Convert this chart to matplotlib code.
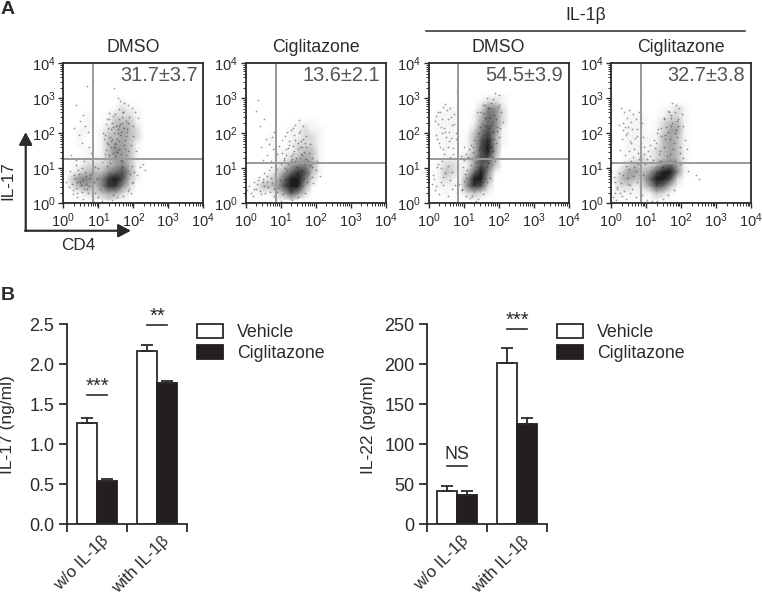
#!/usr/bin/env python3

import numpy as np
from matplotlib import pyplot as plt
from matplotlib.ticker import LogLocator, NullFormatter

plt.rcParams['font.family'] = ['Liberation Sans', 'DejaVu Sans']
plt.rcParams['mathtext.fontset'] = 'custom'
plt.rcParams['mathtext.rm'] = 'Liberation Sans'
plt.rcParams['mathtext.default'] = 'regular'

W, H = 762, 595
DARK = '#2b2b2b'

# Flow plots: darkness (0-9) read per 0.2 decade cell, rows go from top (3.0-3.2) to bottom (0-0.2)
dens_1 = [
    [0, 0, 0, 0, 0, 0, 0, 0, 0, 0, 0, 0],
    [0, 0, 0, 0, 0, 0, 0, 0, 1, 0, 0, 0],
    [0, 0, 0, 0, 0, 0, 0, 1, 2, 1, 1, 0],
    [0, 0, 0, 1, 0, 0, 1, 2, 2, 2, 1, 0],
    [0, 0, 0, 1, 0, 0, 1, 3, 3, 3, 1, 0],
    [0, 0, 1, 1, 0, 1, 2, 3, 4, 3, 2, 0],
    [0, 0, 1, 0, 0, 1, 3, 3, 4, 3, 2, 0],
    [0, 0, 1, 0, 0, 1, 3, 4, 4, 3, 1, 0],
    [0, 0, 0, 1, 0, 1, 3, 5, 4, 3, 1, 0],
    [0, 0, 1, 1, 1, 1, 3, 4, 4, 3, 1, 0],
    [0, 1, 1, 2, 2, 2, 3, 4, 5, 3, 1, 1],
    [0, 1, 2, 3, 3, 3, 5, 6, 7, 4, 1, 0],
    [1, 3, 5, 5, 4, 5, 8, 9, 7, 3, 1, 0],
    [0, 2, 4, 4, 3, 5, 8, 8, 5, 2, 0, 0],
    [0, 0, 1, 2, 2, 3, 4, 4, 2, 1, 0, 0],
    [0, 0, 0, 0, 1, 1, 2, 1, 1, 0, 0, 0],
]
dens_2 = [
    [0, 0, 0, 0, 0, 0, 0, 0, 0, 0, 0, 0],
    [0, 0, 0, 0, 0, 0, 0, 0, 0, 0, 0, 0],
    [0, 0, 0, 0, 0, 0, 0, 0, 0, 0, 0, 0],
    [0, 0, 0, 0, 0, 0, 0, 0, 0, 0, 0, 0],
    [0, 0, 0, 0, 0, 0, 0, 1, 1, 1, 0, 0],
    [0, 0, 0, 0, 0, 0, 1, 1, 2, 1, 1, 0],
    [0, 0, 0, 1, 0, 0, 1, 1, 2, 2, 1, 0],
    [0, 0, 0, 1, 0, 0, 1, 2, 2, 2, 1, 0],
    [0, 0, 0, 0, 1, 1, 1, 2, 3, 3, 1, 0],
    [0, 0, 0, 0, 1, 1, 2, 3, 4, 3, 1, 0],
    [0, 0, 0, 0, 1, 2, 4, 5, 5, 4, 1, 0],
    [0, 0, 0, 1, 2, 4, 6, 8, 7, 3, 1, 0],
    [0, 0, 1, 2, 3, 6, 9, 9, 6, 2, 0, 0],
    [0, 1, 3, 3, 4, 7, 9, 9, 4, 1, 0, 0],
    [0, 1, 1, 1, 2, 4, 7, 5, 2, 0, 0, 0],
    [0, 0, 0, 0, 1, 1, 2, 1, 0, 0, 0, 0],
]
dens_3 = [
    [0, 0, 0, 0, 0, 0, 0, 0, 0, 1, 1, 0],
    [0, 0, 0, 0, 0, 0, 0, 1, 2, 2, 1, 0],
    [0, 0, 1, 1, 0, 0, 0, 2, 5, 5, 2, 0],
    [0, 1, 1, 1, 0, 0, 1, 3, 6, 5, 2, 0],
    [0, 1, 1, 1, 0, 0, 1, 4, 6, 5, 2, 0],
    [0, 1, 1, 1, 0, 0, 2, 5, 7, 5, 1, 0],
    [0, 1, 1, 1, 0, 1, 3, 6, 8, 4, 1, 0],
    [0, 0, 1, 1, 0, 1, 3, 7, 9, 4, 1, 0],
    [0, 0, 1, 0, 0, 1, 3, 7, 9, 4, 0, 0],
    [0, 0, 1, 1, 1, 2, 4, 7, 7, 3, 0, 0],
    [0, 1, 2, 2, 1, 1, 4, 7, 6, 3, 0, 0],
    [0, 1, 3, 2, 1, 2, 6, 9, 5, 1, 0, 0],
    [0, 1, 2, 1, 1, 4, 9, 9, 4, 0, 0, 0],
    [0, 1, 1, 1, 1, 5, 8, 7, 2, 0, 0, 0],
    [0, 0, 1, 0, 0, 2, 3, 2, 1, 0, 0, 0],
    [0, 0, 0, 0, 0, 0, 1, 0, 0, 0, 0, 0],
]
dens_4 = [
    [0, 0, 0, 0, 0, 0, 0, 0, 0, 0, 0, 0],
    [0, 0, 0, 0, 0, 0, 0, 0, 0, 0, 0, 0],
    [0, 0, 0, 0, 0, 0, 0, 1, 1, 2, 1, 0],
    [0, 0, 1, 1, 1, 0, 0, 1, 2, 2, 1, 0],
    [0, 0, 1, 1, 1, 0, 1, 2, 3, 3, 1, 0],
    [0, 0, 1, 1, 1, 0, 1, 2, 4, 4, 1, 0],
    [0, 0, 1, 1, 1, 1, 1, 3, 4, 3, 1, 0],
    [0, 0, 1, 1, 1, 1, 1, 3, 4, 3, 1, 0],
    [0, 0, 1, 1, 1, 1, 2, 3, 4, 3, 1, 0],
    [0, 0, 1, 1, 2, 1, 2, 3, 4, 3, 1, 0],
    [0, 1, 2, 3, 2, 2, 3, 5, 6, 4, 1, 0],
    [0, 2, 4, 4, 3, 4, 7, 9, 9, 5, 1, 0],
    [1, 3, 4, 3, 3, 6, 9, 9, 7, 2, 0, 0],
    [1, 2, 2, 1, 2, 4, 7, 6, 3, 1, 0, 0],
    [1, 1, 1, 1, 1, 1, 3, 2, 1, 0, 0, 0],
    [1, 0, 0, 0, 0, 0, 1, 0, 0, 0, 0, 0],
]

# Single events, log10 of the channel value
x_1 = [0.68, 1.44, 0.37, 0.56, 0.49, 0.30, 0.62, 0.44, 0.52, 0.72, 0.80, 0.23, 0.35, 0.70, 1.55, 1.62,
       1.72, 1.85, 1.95, 2.05, 2.12, 1.30, 1.42, 1.58, 1.70, 1.78, 1.88, 2.00, 1.22, 1.35, 1.50, 1.66,
       1.82, 1.98, 1.15, 1.28, 1.44, 1.60, 1.75, 1.92, 2.08, 2.28, 2.32, 2.18, 2.10, 1.95, 0.08, 0.15,
       0.28, 0.40, 0.55, 0.70, 0.85, 0.98, 1.10, 1.25, 1.40, 1.55, 1.70, 1.85, 0.20, 0.35, 0.60, 0.90,
       1.05, 1.20, 1.48, 1.65, 1.38, 1.52, 1.68, 1.26, 1.12, 1.58, 1.80,
       1.18, 1.22, 1.30, 1.36, 1.42, 1.48, 1.54, 1.60, 1.66, 1.72, 1.78, 1.84, 1.20, 1.27, 1.33, 1.39,
       1.46, 1.52, 1.57, 1.63, 1.69, 1.75, 1.81, 1.25, 1.31, 1.37, 1.43, 1.49, 1.56, 1.62, 1.68, 1.74,
       1.80, 1.86, 0.25, 0.30, 0.36, 0.42, 0.48, 0.54, 0.60, 0.66, 0.72, 0.78, 0.84, 0.33, 0.39, 0.45,
       0.51, 0.57, 0.63, 0.69, 0.75, 0.81, 0.28, 0.40, 0.52, 0.64, 0.76, 0.88, 1.90, 1.95, 1.88, 2.00,
       1.92, 2.02, 0.90, 0.95, 1.00, 1.05, 1.10, 1.34, 1.47, 1.59, 1.71, 1.24, 1.41, 1.53, 1.67]
y_1 = [3.34, 3.30, 2.80, 2.51, 2.35, 2.15, 2.20, 1.95, 1.72, 1.60, 1.45, 1.38, 1.25, 2.05, 3.02, 2.92,
       2.86, 2.80, 2.72, 2.62, 2.45, 2.58, 2.50, 2.40, 2.62, 2.35, 2.48, 2.22, 2.28, 2.12, 2.22, 2.05,
       2.12, 1.92, 1.85, 1.70, 1.62, 1.78, 1.55, 1.68, 1.50, 1.12, 0.95, 1.05, 0.82, 0.58, 0.62, 0.48,
       0.28, 0.18, 0.12, 0.30, 0.06, 0.18, 0.08, 0.04, 0.10, 0.05, 0.22, 0.35, 0.92, 1.10, 1.22, 1.05,
       1.28, 1.40, 1.35, 1.25, 1.85, 1.48, 1.22, 2.42, 2.02, 2.70, 1.38,
       1.30, 1.52, 1.38, 1.60, 1.45, 1.72, 1.30, 1.55, 1.42, 1.68, 1.30, 1.50, 1.95, 2.15, 1.90, 2.30,
       2.00, 1.85, 2.12, 1.95, 2.30, 1.80, 2.05, 1.72, 2.40, 1.78, 2.18, 2.55, 2.00, 2.28, 2.48, 2.16,
       1.92, 2.30, 0.55, 0.82, 0.45, 0.95, 0.62, 1.02, 0.40, 0.78, 0.50, 0.88, 0.58, 0.72, 0.30, 0.85,
       0.52, 0.68, 0.90, 0.42, 0.72, 0.98, 0.38, 0.60, 0.32, 0.55, 0.82, 0.62, 0.85, 1.08, 0.40, 0.62,
       0.30, 0.90, 0.30, 0.70, 1.02, 0.42, 1.18, 1.15, 1.70, 2.20, 2.60, 1.08, 0.25, 0.18, 1.05]

x_2 = [0.34, 0.28, 0.40, 0.52, 0.58, 0.44, 0.66, 0.75, 0.62, 0.50, 0.78, 0.82, 0.72, 0.88, 0.95, 1.05,
       1.18, 1.30, 1.40, 1.52, 1.65, 1.12, 1.25, 1.38, 1.55, 1.72, 1.85, 1.05, 1.20, 1.35, 1.50, 1.62,
       1.80, 1.90, 2.05, 2.00, 1.10, 1.28, 1.42, 1.58, 1.72, 1.88, 2.12, 0.05, 0.10, 0.15, 0.25, 0.38,
       0.52, 0.66, 0.80, 1.00, 1.15, 1.32, 1.50, 1.68, 0.20, 0.30, 0.48, 0.62, 0.72, 0.90, 1.02, 1.18,
       1.44, 1.60, 1.75, 1.92,
       1.08, 1.16, 1.24, 1.32, 1.40, 1.48, 1.56, 1.64, 1.72, 1.22, 1.30, 1.38, 1.46, 1.54, 1.62, 1.70,
       1.78, 1.14, 1.36, 1.52, 1.68, 1.44, 1.58, 1.34, 0.24, 0.32, 0.40, 0.48, 0.56, 0.64, 0.72, 0.80,
       0.36, 0.44, 0.52, 0.60, 0.68, 0.76, 0.84, 0.92, 0.98, 0.88, 1.06, 1.12, 1.78, 1.84, 1.90, 1.66]
y_2 = [2.95, 2.65, 2.20, 2.40, 1.85, 1.62, 1.70, 1.90, 1.38, 1.25, 1.55, 2.05, 1.20, 1.40, 1.65, 1.80,
       2.05, 2.10, 2.25, 2.38, 2.22, 1.92, 1.78, 1.95, 2.08, 1.92, 1.70, 1.45, 1.58, 1.42, 1.72, 1.60,
       1.45, 1.30, 1.22, 0.95, 1.25, 1.35, 1.20, 1.40, 1.28, 1.05, 0.78, 0.38, 0.50, 0.30, 0.62, 0.75,
       0.88, 0.95, 0.22, 0.08, 0.05, 0.10, 0.18, 0.30, 0.20, 0.42, 0.70, 0.62, 1.05, 0.98, 1.12, 0.95,
       1.05, 0.96, 0.62, 0.58,
       1.30, 1.55, 1.68, 1.28, 1.82, 1.55, 1.30, 1.85, 1.62, 1.12, 1.22, 1.50, 1.18, 1.62, 1.38, 1.72,
       1.20, 1.38, 1.64, 2.00, 1.12, 1.30, 1.78, 2.15, 0.42, 0.55, 0.35, 0.62, 0.30, 0.48, 0.72, 0.40,
       0.68, 0.28, 0.50, 0.78, 0.32, 0.58, 0.85, 0.45, 0.68, 0.32, 0.28, 1.02, 0.88, 1.10, 0.75, 1.48]

x_3 = [0.82, 0.62, 0.48, 0.40, 0.28, 0.18, 0.55, 0.72, 0.35, 0.22, 0.48, 0.66, 0.78, 0.30, 0.42, 0.58,
       0.70, 0.60, 0.38, 0.25, 0.12, 0.10, 0.18, 0.30, 0.42, 0.55, 0.68, 0.80, 1.90, 2.00, 1.85, 1.78,
       1.66, 1.98, 2.08, 2.12, 1.55, 1.42, 1.30, 1.22, 1.15, 1.08, 1.00, 2.05, 2.00, 1.92, 1.85, 1.80,
       1.70, 1.60, 1.52, 1.18, 1.08, 0.95, 1.02, 1.10, 1.25, 1.40, 1.55, 1.68, 1.00, 0.92, 1.05, 1.28,
       1.62, 1.76, 1.90, 1.46, 1.72, 1.34,
       0.20, 0.26, 0.33, 0.39, 0.45, 0.52, 0.58, 0.64, 0.71, 0.77, 0.24, 0.31, 0.37, 0.44, 0.50, 0.56,
       0.63, 0.69, 0.28, 0.36, 0.42, 0.54, 0.66, 0.16, 0.22, 0.34, 0.46, 0.60, 0.74, 1.12, 1.20, 1.28,
       1.36, 1.44, 1.52, 1.60, 1.68, 1.76, 1.84, 1.92, 1.38, 1.46, 1.54, 1.62, 1.70, 1.78, 1.86, 1.48,
       1.58, 1.66, 1.74, 1.82, 1.94, 2.02, 1.56, 1.64, 1.72, 1.80, 1.88, 1.96, 0.86, 0.94, 0.98, 1.06]
y_3 = [3.20, 2.72, 2.85, 2.75, 2.60, 2.35, 2.42, 2.55, 2.18, 1.95, 2.05, 2.25, 2.02, 1.72, 1.55, 1.78,
       1.58, 1.32, 1.20, 1.05, 0.82, 0.55, 0.38, 0.28, 0.52, 0.20, 0.40, 0.30, 3.15, 3.10, 2.98, 2.88,
       3.00, 2.75, 2.60, 2.32, 2.25, 2.00, 1.82, 1.68, 1.55, 1.42, 1.25, 2.15, 1.90, 1.72, 1.50, 1.32,
       1.15, 0.98, 0.72, 0.15, 0.22, 0.38, 0.65, 0.95, 0.20, 0.12, 0.28, 0.62, 1.62, 1.35, 0.85, 1.48,
       2.80, 2.45, 1.20, 2.62, 2.15, 0.06,
       2.50, 2.28, 2.62, 2.40, 2.15, 2.68, 2.05, 2.48, 2.28, 1.85, 1.85, 1.62, 2.00, 1.42, 1.90, 1.62,
       1.88, 1.42, 1.12, 1.00, 0.75, 1.08, 0.90, 0.70, 0.50, 0.62, 0.88, 0.68, 0.52, 1.32, 1.10, 1.62,
       1.18, 1.52, 1.82, 1.35, 1.05, 0.72, 2.05, 2.40, 2.62, 2.18, 2.82, 2.45, 2.72, 2.25, 1.85, 1.62,
       1.95, 1.45, 1.85, 1.60, 2.08, 2.82, 2.58, 2.22, 2.72, 2.32, 2.52, 2.18, 0.55, 0.42, 1.05, 0.72]

x_4 = [0.85, 0.28, 0.38, 0.45, 0.52, 0.62, 0.70, 0.80, 0.22, 0.35, 0.48, 0.58, 0.75, 0.88, 0.30, 0.42,
       0.56, 0.68, 0.82, 0.92, 0.25, 0.40, 0.52, 0.64, 0.78, 0.95, 1.02, 1.75, 1.85, 1.95, 2.02, 1.62,
       1.70, 1.88, 2.05, 1.50, 1.42, 1.30, 1.22, 1.12, 1.05, 2.10, 2.18, 2.05, 1.98, 2.20, 2.42, 2.50,
       0.02, 0.05, 0.10, 0.14, 0.18, 0.30, 0.42, 0.55, 0.72, 0.88, 1.02, 1.18, 1.32, 1.48, 1.62, 1.80,
       1.12, 1.25, 1.38, 1.55, 1.68, 1.82, 0.12, 0.08, 0.24,
       0.33, 0.41, 0.47, 0.54, 0.60, 0.67, 0.73, 0.79, 0.86, 0.93, 0.36, 0.44, 0.50, 0.58, 0.65, 0.71,
       0.77, 0.84, 0.91, 0.98, 0.28, 0.34, 0.46, 0.55, 0.63, 0.74, 0.87, 0.18, 0.26, 0.38, 0.49, 0.61,
       1.20, 1.28, 1.36, 1.44, 1.52, 1.60, 1.68, 1.76, 1.84, 1.92, 1.34, 1.42, 1.50, 1.58, 1.66, 1.74,
       1.82, 1.90, 1.46, 1.56, 1.64, 1.72, 1.80, 1.88, 1.96, 1.40, 1.54, 1.70, 1.86, 1.98]
y_4 = [3.22, 2.72, 2.60, 2.45, 2.68, 2.55, 2.40, 2.62, 2.25, 2.10, 2.18, 2.32, 2.12, 2.30, 1.85, 1.95,
       1.72, 1.88, 1.65, 1.90, 1.52, 1.38, 1.50, 1.32, 1.45, 1.62, 1.28, 2.88, 2.80, 2.72, 2.55, 2.65,
       2.45, 2.35, 2.20, 2.40, 2.15, 2.00, 1.82, 1.68, 1.50, 1.80, 1.55, 1.30, 1.12, 0.92, 0.82, 0.70,
       0.05, 0.18, 0.30, 0.10, 0.42, 0.22, 0.12, 0.30, 0.18, 0.25, 0.10, 0.08, 0.06, 0.12, 0.25, 0.38,
       1.35, 1.58, 1.22, 1.85, 1.40, 1.20, 0.62, 0.75, 0.88,
       2.30, 2.18, 2.02, 1.78, 2.12, 1.55, 1.92, 1.28, 1.72, 1.42, 1.18, 1.08, 0.98, 1.22, 1.05, 0.92,
       1.12, 0.98, 0.82, 1.12, 0.58, 0.82, 0.72, 0.52, 0.78, 0.62, 0.48, 0.48, 0.30, 0.36, 0.55, 0.42,
       1.25, 1.72, 1.42, 1.22, 1.62, 1.35, 1.85, 1.55, 2.00, 2.22, 2.12, 1.92, 2.45, 2.18, 2.60, 2.30,
       2.62, 2.42, 1.05, 1.18, 2.05, 2.52, 1.72, 1.90, 1.45, 1.50, 1.95, 2.20, 2.10, 1.62]

flow_titles = ['DMSO', 'Ciglitazone', 'DMSO', 'Ciglitazone']
flow_values = ['31.7±3.7', '13.6±2.1', '54.5±3.9', '32.7±3.8']
flow_gate_x = [0.85, 0.857, 0.83, 0.867]
flow_gate_y = [1.27, 1.16, 1.27, 1.16]
flow_dens = [dens_1, dens_2, dens_3, dens_4]
flow_x = [x_1, x_2, x_3, x_4]
flow_y = [y_1, y_2, y_3, y_4]
flow_left = [63.3, 245.7, 428.7, 611]

# Bar charts
bar_groups = ['w/o IL-1β', 'with IL-1β']
series_names = ['Vehicle', 'Ciglitazone']
il17_vehicle = [1.26, 2.17]
il17_vehicle_err = [0.07, 0.07]
il17_cigli = [0.54, 1.77]
il17_cigli_err = [0.02, 0.02]
il22_vehicle = [42, 201]
il22_vehicle_err = [6, 19]
il22_cigli = [36, 125]
il22_cigli_err = [5, 8]


def axes_px(left, top, width, height):
    return fig.add_axes([left / W, 1 - (top + height) / H, width / W, height / H])


def text_px(x, y, s, **kw):
    kw.setdefault('ha', 'center')
    kw.setdefault('va', 'center')
    kw.setdefault('color', DARK)
    fig.text(x / W, 1 - y / H, s, **kw)


def arrow_px(x1, y1, x2, y2):
    fig.add_artist(plt.annotate('', xy=(x2 / W, 1 - y2 / H), xytext=(x1 / W, 1 - y1 / H),
                                xycoords='figure fraction', textcoords='figure fraction',
                                arrowprops=dict(arrowstyle='-|>,head_length=0.75,head_width=0.4',
                                                color=DARK, lw=1.3, shrinkA=0, shrinkB=0)))


def flow_plot(left, i):
    ax = axes_px(left, 63.3, 140, 140)
    ax.set_xscale('log')
    ax.set_yscale('log')
    cx = 10 ** (np.arange(12) * 0.2 + 0.1)
    cy = 10 ** (np.arange(16) * 0.2 + 0.1)
    grid = np.array(flow_dens[i], dtype=float)[::-1]
    ax.pcolormesh(cx, cy, grid, shading='gouraud', cmap='gray_r', vmin=0.6, vmax=10, rasterized=True)
    ax.scatter(10 ** np.array(flow_x[i]), 10 ** np.array(flow_y[i]), s=1.6, c='#222222', alpha=0.45, linewidths=0)
    ax.axvline(10 ** flow_gate_x[i], color='#9a9a9a', lw=1.4)
    ax.axhline(10 ** flow_gate_y[i], color='#9a9a9a', lw=1.4)
    ax.set_xlim(1, 1e4)
    ax.set_ylim(1, 1e4)
    for s in ax.spines.values():
        s.set_linewidth(1.3)
        s.set_color(DARK)
    for axis in (ax.xaxis, ax.yaxis):
        axis.set_major_locator(LogLocator(base=10, numticks=6))
        axis.set_minor_locator(LogLocator(base=10, subs=np.arange(2, 10), numticks=6))
        axis.set_minor_formatter(NullFormatter())
    ax.tick_params(which='major', length=3.5, width=1, color=DARK, labelsize=10.5, labelcolor=DARK, pad=2)
    ax.tick_params(which='minor', length=2, width=0.7, color=DARK)
    ax.text(0.96, 0.91, flow_values[i], transform=ax.transAxes, ha='right', va='center',
            fontsize=14.4, color='#555555')
    text_px(left + 70, 47, flow_titles[i], fontsize=12.8)


def bar_plot(left, vehicle, vehicle_err, cigli, cigli_err, ymax, yticks, yfmt, ylabel, marks):
    ax = axes_px(left, 324.3, 120, 200)
    pos = np.arange(len(bar_groups)) + 0.5
    zero = np.zeros(len(bar_groups))
    err_kw = dict(ecolor=DARK, elinewidth=1.3, capsize=4.3, capthick=1.3)
    ax.bar(pos - 0.17, vehicle, 0.34, color='white', edgecolor=DARK, linewidth=1.3,
           yerr=[zero, vehicle_err], error_kw=err_kw, label=series_names[0])
    ax.bar(pos + 0.17, cigli, 0.34, color='#231f20', edgecolor='#231f20', linewidth=1.3,
           yerr=[zero, cigli_err], error_kw=err_kw, label=series_names[1])
    ax.set_xlim(0, 2)
    ax.set_ylim(0, ymax)
    ax.set_yticks(yticks)
    ax.set_yticklabels([yfmt % v for v in yticks])
    ax.set_xticks([0, 1, 2])
    ax.set_xticklabels([])
    for p, g in zip(pos, bar_groups):
        ax.annotate(g, xy=(p, 0), xycoords=('data', 'axes fraction'), xytext=(4, -9), textcoords='offset pixels',
                    rotation=45, ha='right', va='top', rotation_mode='anchor', fontsize=12.2, color=DARK)
    ax.tick_params(axis='x', which='major', length=6, width=1.3, color=DARK)
    ax.tick_params(axis='y', length=6, width=1.3, color=DARK, labelsize=13, labelcolor=DARK, pad=3)
    ax.spines['top'].set_visible(False)
    ax.spines['right'].set_visible(False)
    ax.spines['left'].set_linewidth(1.3)
    ax.spines['bottom'].set_linewidth(1.3)
    ax.spines['left'].set_color(DARK)
    ax.spines['bottom'].set_color(DARK)
    ax.patch.set_alpha(0)
    text_px(left - 59, 424.5, ylabel, rotation=90, fontsize=12.5)
    for x, h, label in marks:
        ax.plot([x - 0.17, x + 0.17], [h, h], color=DARK, lw=1.2, clip_on=False)
        if label == 'NS':
            ax.text(x, h + ymax * 0.012, label, ha='center', va='bottom', fontsize=12.8, color=DARK)
        else:
            ax.text(x, h + ymax * 0.045, label, ha='center', va='center', fontsize=14.5, color=DARK)
    ax.legend(loc='upper left', bbox_to_anchor=(1.083, 1.0), frameon=False, fontsize=12.8, borderpad=0,
              borderaxespad=0, handlelength=1.45, handleheight=0.8, handletextpad=0.8, labelspacing=0.22,
              labelcolor=DARK)


fig = plt.figure(figsize=(W / 100, H / 100), dpi=100)

for i, left in enumerate(flow_left):
    flow_plot(left, i)

text_px(8, 10, 'A', fontsize=14, fontweight='bold', ha='center')
text_px(8, 295, 'B', fontsize=14, fontweight='bold', ha='center')
text_px(586, 16, 'IL-1β', fontsize=12.8)
fig.add_artist(plt.Line2D([426 / W, 745 / W], [1 - 30.5 / H, 1 - 30.5 / H], color=DARK, lw=1.1))
arrow_px(25.7, 231, 25.7, 132.5)
arrow_px(25, 230.7, 130.5, 230.7)
text_px(8, 181, 'IL-17', rotation=90, fontsize=12.3)
text_px(78, 246, 'CD4', fontsize=12.3)

bar_plot(67, il17_vehicle, il17_vehicle_err, il17_cigli, il17_cigli_err, 2.5,
         [0, 0.5, 1.0, 1.5, 2.0, 2.5], '%.1f', 'IL-17 (ng/ml)',
         [(0.5, 1.617, '***'), (1.5, 2.49, '**')])
bar_plot(427, il22_vehicle, il22_vehicle_err, il22_cigli, il22_cigli_err, 250,
         [0, 50, 100, 150, 200, 250], '%d', 'IL-22 (pg/ml)',
         [(0.5, 73, 'NS'), (1.5, 244, '***')])

fig.savefig('out.png', dpi=100)
